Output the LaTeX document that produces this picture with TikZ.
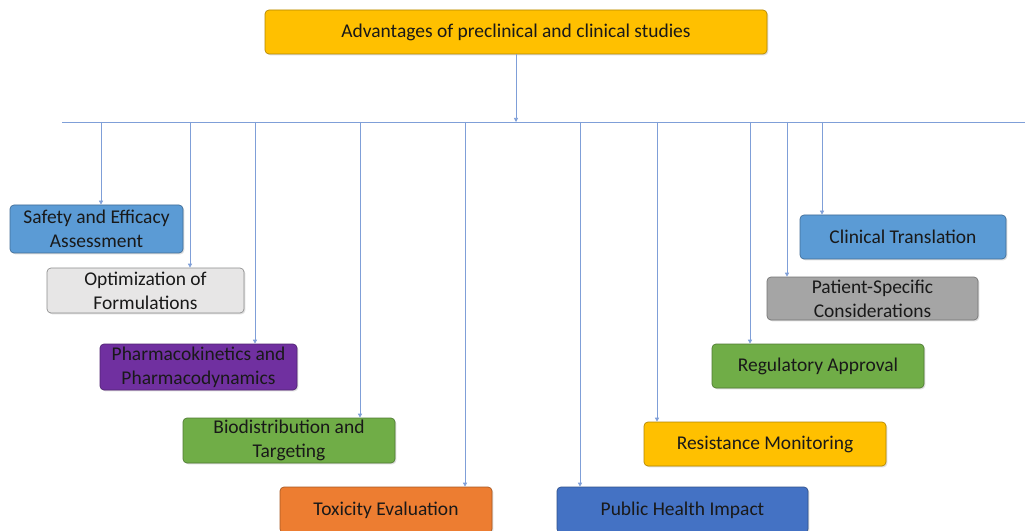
\documentclass[tikz,border=0pt]{standalone}
\usepackage{fontspec}
\setmainfont{Carlito}
\usetikzlibrary{arrows.meta,shadows}

\definecolor{linkblue}{HTML}{7F9FD8}
\definecolor{goldbox}{HTML}{FFC000}
\definecolor{skybox}{HTML}{5B9BD5}
\definecolor{greybox}{HTML}{E7E6E6}
\definecolor{plumbox}{HTML}{7030A0}
\definecolor{leafbox}{HTML}{70AD47}
\definecolor{rustbox}{HTML}{ED7D31}
\definecolor{navybox}{HTML}{4472C4}
\definecolor{ashbox}{HTML}{A5A5A5}

\tikzset{
  topic/.style={draw=#1!70!black, fill=#1, rounded corners=3pt, line width=0.5pt,
    align=center, inner sep=0pt, text=black!90,
    font=\fontsize{14.6}{18}\selectfont,
    drop shadow={shadow xshift=1pt, shadow yshift=-1pt, opacity=0.25}},
  link/.style={draw=linkblue, line width=0.5pt, -{Triangle[width=3pt,length=3pt]}},
}

\begin{document}
\begin{tikzpicture}[x=0.75pt, y=-0.75pt]
   \useasboundingbox (0,0) rectangle (1025,531);
   % heading
   \node[topic=goldbox, minimum width=376.5pt, minimum height=33pt] (head) at (516,32)
     {Advantages of preclinical and clinical studies};
   % bus line
   \coordinate (busL) at (62,122);
   \coordinate (busR) at (1025,122);
   \coordinate (busM) at (516,122);
   \draw[draw=linkblue, line width=0.5pt] (busL) -- (busR);
   \draw[link] (head) -- (busM);
   % left branch
   \node[topic=skybox, minimum width=129.75pt, minimum height=36pt] (safety) at (96.5,229)
     {Safety and Efficacy\\Assessment};
   \node[topic=greybox, draw=black!45, minimum width=147.75pt, minimum height=33.75pt] (optim) at (145.5,290.5)
     {Optimization of\\Formulations};
   \node[topic=plumbox, minimum width=147.75pt, minimum height=34.5pt] (pkpd) at (198.5,367)
     {Pharmacokinetics and\\Pharmacodynamics};
   \node[topic=leafbox, minimum width=159pt, minimum height=33.75pt] (biodist) at (289,440.5)
     {Biodistribution and\\Targeting};
   \node[topic=rustbox, minimum width=159pt, minimum height=34.5pt] (tox) at (386,510)
     {Toxicity Evaluation};
   % right branch
   \node[topic=navybox, minimum width=188.25pt, minimum height=34.5pt] (health) at (682.5,510)
     {Public Health Impact};
   \node[topic=goldbox, minimum width=181.5pt, minimum height=33pt] (resist) at (765,444)
     {Resistance Monitoring};
   \node[topic=leafbox, minimum width=159pt, minimum height=33pt] (approval) at (818,366)
     {Regulatory Approval};
   \node[topic=ashbox, minimum width=158.25pt, minimum height=32.25pt] (patient) at (872.5,298.5)
     {Patient-Specific\\Considerations};
   \node[topic=skybox, minimum width=154.5pt, minimum height=33pt] (clinic) at (903,237)
     {Clinical Translation};
   % drops from the bus
   \foreach \bx/\target in {101/safety, 190/optim, 255/pkpd, 360/biodist, 465/tox,
                            580/health, 657/resist, 750/approval, 787/patient, 822/clinic}
   {
     \coordinate (drop-\target) at (\bx,122);
     \draw[link] (drop-\target) -- (drop-\target |- \target.north);
   }
\end{tikzpicture}
\end{document}
